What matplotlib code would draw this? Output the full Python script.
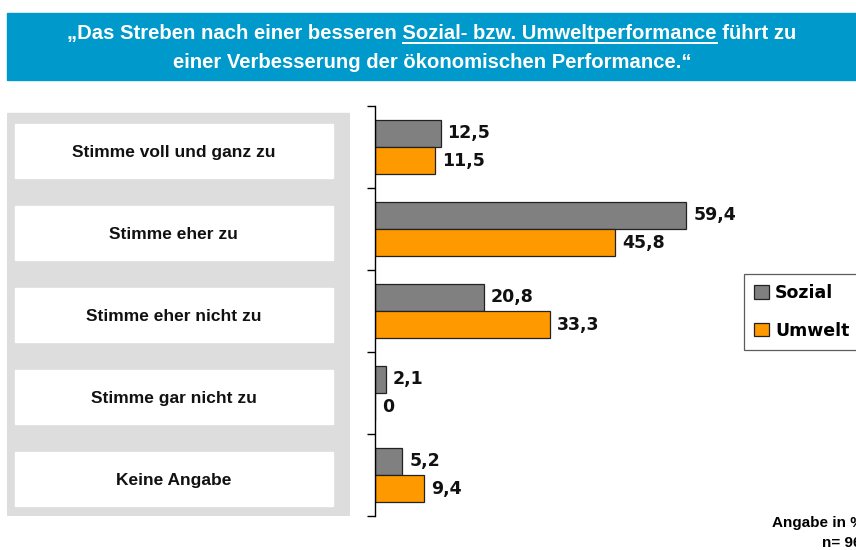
import matplotlib
matplotlib.use("Agg")
import matplotlib.pyplot as plt
from matplotlib.patches import Rectangle
from matplotlib.lines import Line2D

# data
categories = ["Stimme voll und ganz zu", "Stimme eher zu", "Stimme eher nicht zu",
              "Stimme gar nicht zu", "Keine Angabe"]
sozial = [12.5, 59.4, 20.8, 2.1, 5.2]
umwelt = [11.5, 45.8, 33.3, 0, 9.4]
series_names = ["Sozial", "Umwelt"]

title_pre = "\u201eDas Streben nach einer besseren "
title_mid = "Sozial- bzw. Umweltperformance"
title_post = " f\u00fchrt zu"
title_line2 = "einer Verbesserung der \u00f6konomischen Performance.\u201c"

plt.rcParams['font.family'] = ['Liberation Sans', 'DejaVu Sans']

W, H = 856, 550
fig = plt.figure(figsize=(W / 100, H / 100), dpi=100)

# title banner
fig.patches.append(Rectangle((7 / W, 1 - 80 / H), 1 - 7 / W, 67 / H,
                             transform=fig.transFigure, color="#0099CC", zorder=0))
renderer = fig.canvas.get_renderer()
tkw = dict(color="white", fontsize=14.6, fontweight="bold", va="center")


def text_w(s):
    t = fig.text(0, 0, s, **tkw)
    w = t.get_window_extent(renderer).width
    t.remove()
    return w


full1 = title_pre + title_mid + title_post
w_full = text_w(full1)
x0 = 432 - w_full / 2
fig.text(x0 / W, 1 - 33.5 / H, full1, ha="left", **tkw)
# underline the middle part
w_a = text_w(title_pre + title_mid)
w_mid = text_w(title_mid)
ux0 = x0 + w_a - w_mid
ux1 = x0 + w_a
fig.lines.append(Line2D([ux0 / W, ux1 / W], [1 - 42.5 / H, 1 - 42.5 / H], color="white",
                        lw=1.4, transform=fig.transFigure))
fig.text(432 / W, 1 - 62.5 / H, title_line2, ha="center", **tkw)

# axes geometry
top_px, bot_px = 106, 516
bottom = (H - bot_px) / H
height = (bot_px - top_px) / H
n = len(categories)
ypos = list(range(n))

# left label panel
ax0 = fig.add_axes([7 / W, bottom, (350 - 7) / W, height])
ax0.set_xlim(0, 1)
ax0.set_ylim(n - 0.5, -0.5)
ax0.axis("off")
ax0.add_patch(Rectangle((0, -0.415), 1, 4.905, color="#DDDDDD", zorder=0))
for y, lab in zip(ypos, categories):
    ax0.add_patch(Rectangle((0.023, y + 0.05 - 0.33), 0.927, 0.66, color="white", zorder=1))
    ax0.text(0.4865, y + 0.07, lab, ha="center", va="center", fontsize=12.5,
             fontweight="bold", color="#111111", zorder=2)

# bar chart
ax = fig.add_axes([375 / W, bottom, (745 - 375) / W, height])
bh = 0.335
b1 = ax.barh([y - bh / 2 for y in ypos], sozial, height=bh, color="#808080",
             edgecolor="#222222", lw=0.9, label=series_names[0])
b2 = ax.barh([y + bh / 2 for y in ypos], umwelt, height=bh, color="#FF9900",
             edgecolor="#222222", lw=0.9, label=series_names[1])
for bars, vals in ((b1, sozial), (b2, umwelt)):
    ax.bar_label(bars, labels=[f"{v:g}".replace(".", ",") for v in vals], padding=5,
                 fontsize=12.5, fontweight="bold", color="#111111", family="DejaVu Sans")
ax.set_xlim(0, 70.6)
ax.set_ylim(n - 0.5, -0.5)
ax.set_yticks([y - 0.5 for y in ypos] + [n - 0.5])
ax.set_yticklabels([])
ax.set_xticks([])
ax.tick_params(axis="y", length=6, width=1, direction="out")
for s in ("top", "right", "bottom"):
    ax.spines[s].set_visible(False)
ax.spines["left"].set_linewidth(1)

leg = ax.legend(loc="upper left", bbox_to_anchor=(744 / W, 1 - 350 / H, 130 / W, 76 / H),
                bbox_transform=fig.transFigure, mode="expand", frameon=True, fancybox=False,
                edgecolor="#333333", handlelength=0.85, handleheight=0.85, handletextpad=0.35,
                labelspacing=1.1, borderpad=0.6, borderaxespad=0,
                prop=dict(size=12.5, weight="bold", family="DejaVu Sans"))
leg.get_frame().set_linewidth(0.9)

fig.text(772 / W, 1 - 523 / H, "Angabe in %", fontsize=11, fontweight="bold",
         va="center", ha="left")
fig.text(822 / W, 1 - 543 / H, "n= 96", fontsize=11, fontweight="bold",
         va="center", ha="left")

fig.savefig("out.png", dpi=100)
